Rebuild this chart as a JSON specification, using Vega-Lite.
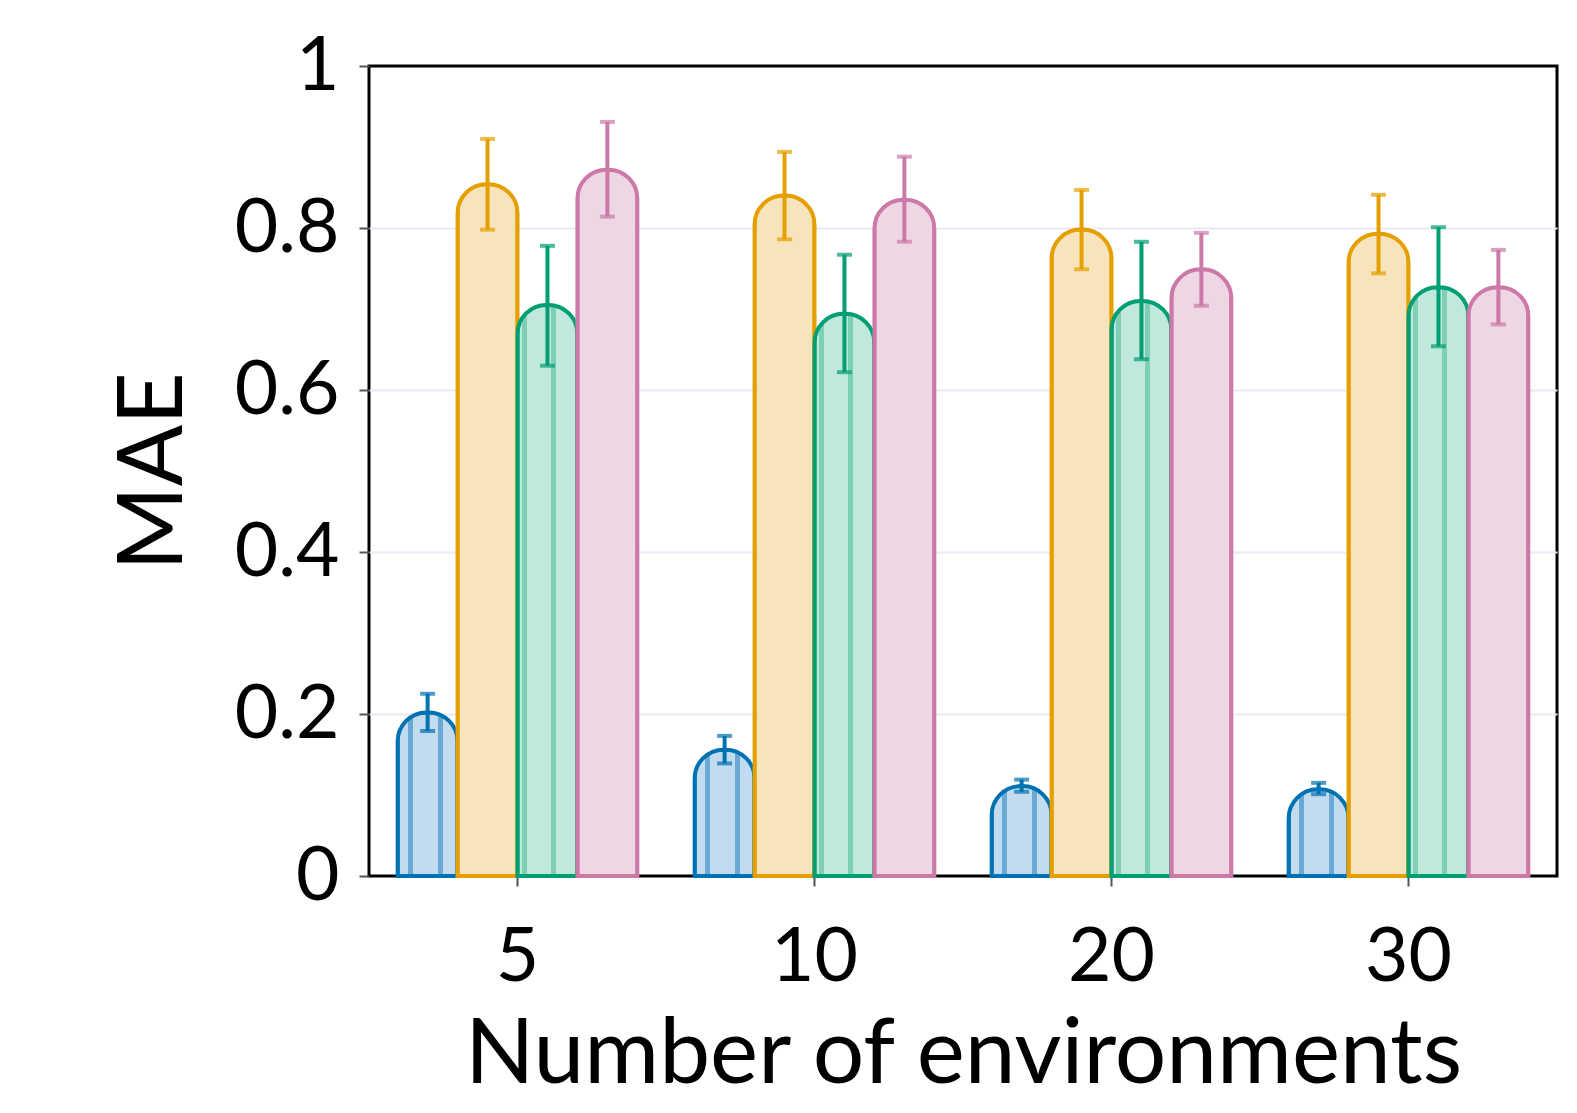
{
  "$schema": "https://vega.github.io/schema/vega-lite/v6.json",
  "width": 1188,
  "height": 810,
  "autosize": {"type": "none"},
  "padding": {"left": 369, "top": 66, "right": 20, "bottom": 237},
  "data": {
    "values": [
      {"env": "5", "method": "M1", "mae": 0.202, "lo": 0.179, "hi": 0.225},
      {"env": "5", "method": "M2", "mae": 0.854, "lo": 0.798, "hi": 0.910},
      {"env": "5", "method": "M3", "mae": 0.705, "lo": 0.630, "hi": 0.778},
      {"env": "5", "method": "M4", "mae": 0.872, "lo": 0.814, "hi": 0.931},
      {"env": "10", "method": "M1", "mae": 0.156, "lo": 0.139, "hi": 0.173},
      {"env": "10", "method": "M2", "mae": 0.840, "lo": 0.786, "hi": 0.894},
      {"env": "10", "method": "M3", "mae": 0.694, "lo": 0.622, "hi": 0.767},
      {"env": "10", "method": "M4", "mae": 0.835, "lo": 0.783, "hi": 0.888},
      {"env": "20", "method": "M1", "mae": 0.111, "lo": 0.104, "hi": 0.119},
      {"env": "20", "method": "M2", "mae": 0.798, "lo": 0.749, "hi": 0.847},
      {"env": "20", "method": "M3", "mae": 0.710, "lo": 0.638, "hi": 0.783},
      {"env": "20", "method": "M4", "mae": 0.749, "lo": 0.704, "hi": 0.794},
      {"env": "30", "method": "M1", "mae": 0.107, "lo": 0.101, "hi": 0.115},
      {"env": "30", "method": "M2", "mae": 0.793, "lo": 0.744, "hi": 0.841},
      {"env": "30", "method": "M3", "mae": 0.727, "lo": 0.654, "hi": 0.801},
      {"env": "30", "method": "M4", "mae": 0.727, "lo": 0.681, "hi": 0.773}
    ]
  },
  "encoding": {
    "x": {
      "field": "env", "type": "ordinal", "sort": ["5", "10", "20", "30"],
      "scale": {"paddingInner": 0.193, "paddingOuter": 0.0965},
      "axis": {
        "title": "Number of environments", "labelAngle": 0,
        "labelBaseline": "alphabetic", "labelPadding": 94,
        "titleX": 594, "titleY": 206, "titleBaseline": "alphabetic"
      }
    },
    "xOffset": {
      "field": "method", "type": "nominal",
      "scale": {"paddingInner": 0, "paddingOuter": 0}
    }
  },
  "layer": [
    {
      "mark": {
        "type": "bar", "strokeWidth": 4,
        "cornerRadiusTopLeft": 29, "cornerRadiusTopRight": 29
      },
      "encoding": {
        "y": {
          "field": "mae", "type": "quantitative",
          "scale": {"domain": [0, 1], "nice": false},
          "axis": {
            "title": "MAE", "values": [0, 0.2, 0.4, 0.6, 0.8, 1], "format": "~g",
            "titleX": -188, "titleY": 405, "titleBaseline": "alphabetic",
            "gridOpacity": {"condition": {"test": "datum.value === 0 || datum.value === 1", "value": 0}, "value": 1}
          }
        },
        "stroke": {
          "field": "method", "type": "nominal", "legend": null,
          "scale": {"domain": ["M1", "M2", "M3", "M4"], "range": ["#0072B2", "#E69F00", "#009E73", "#CC79A7"]}
        },
        "fill": {
          "condition": [
            {"test": "datum.method === 'M1'", "value": {
              "gradient": "linear", "x1": 0, "x2": 1, "y1": 0, "y2": 0,
              "stops": [
                {"offset": 0, "color": "#c2dbee"}, {"offset": 0.18, "color": "#c2dbee"},
                {"offset": 0.18, "color": "#6aa9d6"}, {"offset": 0.26, "color": "#6aa9d6"},
                {"offset": 0.26, "color": "#c2dbee"}, {"offset": 0.67, "color": "#c2dbee"},
                {"offset": 0.67, "color": "#6aa9d6"}, {"offset": 0.75, "color": "#6aa9d6"},
                {"offset": 0.75, "color": "#c2dbee"}, {"offset": 1, "color": "#c2dbee"}
              ]}},
            {"test": "datum.method === 'M2'", "value": "#f8e4bc"},
            {"test": "datum.method === 'M3'", "value": {
              "gradient": "linear", "x1": 0, "x2": 1, "y1": 0, "y2": 0,
              "stops": [
                {"offset": 0, "color": "#c1e8dd"}, {"offset": 0.08, "color": "#c1e8dd"},
                {"offset": 0.08, "color": "#7fcfb5"}, {"offset": 0.16, "color": "#7fcfb5"},
                {"offset": 0.16, "color": "#c1e8dd"}, {"offset": 0.56, "color": "#c1e8dd"},
                {"offset": 0.56, "color": "#7fcfb5"}, {"offset": 0.64, "color": "#7fcfb5"},
                {"offset": 0.64, "color": "#c1e8dd"}, {"offset": 1, "color": "#c1e8dd"}
              ]}}
          ],
          "value": "#efd6e4"
        }
      }
    },
    {
      "mark": {"type": "rule", "strokeWidth": 4},
      "encoding": {
        "y": {"field": "lo", "type": "quantitative"},
        "y2": {"field": "hi"},
        "color": {
          "field": "method", "type": "nominal", "legend": null,
          "scale": {"domain": ["M1", "M2", "M3", "M4"], "range": ["#0072B2", "#E69F00", "#009E73", "#CC79A7"]}
        }
      }
    },
    {
      "mark": {"type": "tick", "orient": "horizontal", "size": 15, "thickness": 4},
      "encoding": {
        "y": {"field": "lo", "type": "quantitative"},
        "color": {"field": "method", "type": "nominal", "legend": null}
      }
    },
    {
      "mark": {"type": "tick", "orient": "horizontal", "size": 15, "thickness": 4},
      "encoding": {
        "y": {"field": "hi", "type": "quantitative"},
        "color": {"field": "method", "type": "nominal", "legend": null}
      }
    }
  ],
  "config": {
    "font": "Lato",
    "view": {"stroke": "black", "strokeWidth": 3},
    "axis": {
      "domain": false,
      "labelFont": "Lato", "labelFontSize": 75, "labelColor": "black",
      "titleFont": "Lato", "titleFontSize": 91, "titleFontWeight": "normal", "titleColor": "black",
      "tickColor": "#555555", "tickWidth": 2, "tickSize": 10,
      "gridColor": "#e8eaf4", "gridWidth": 2
    },
    "axisX": {"grid": false},
    "axisY": {"labelPadding": 20}
  }
}
